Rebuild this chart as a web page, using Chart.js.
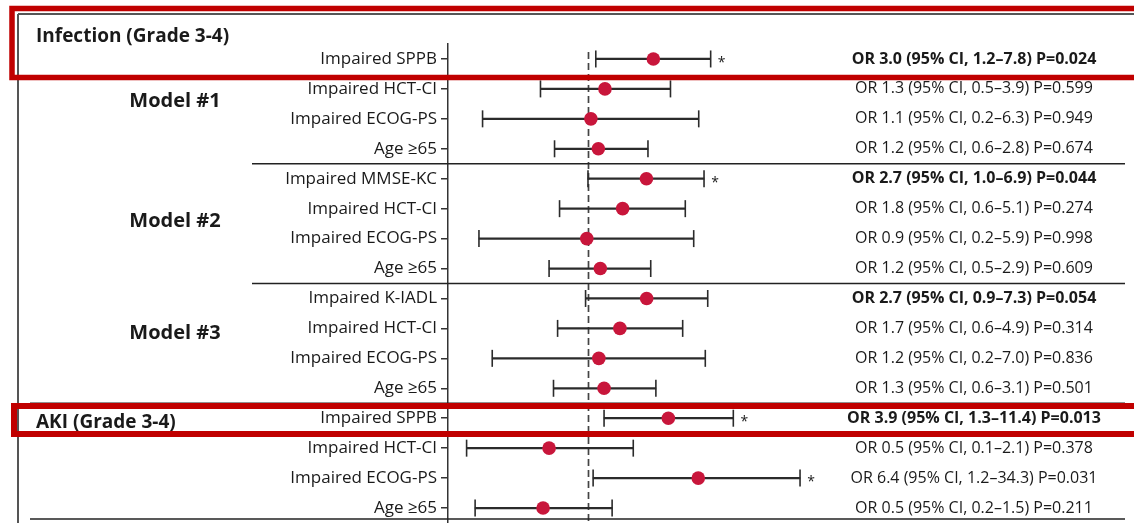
<!DOCTYPE html>
<html>
<head>
<meta charset="utf-8">
<script src="https://cdn.jsdelivr.net/npm/chart.js@4.4.1/dist/chart.umd.min.js"></script>
<style>
  html, body { margin: 0; padding: 0; background: #fff; }
  canvas { display: block; }
</style>
</head>
<body>
<canvas id="forest" width="1134" height="523"></canvas>
<script>
// rows, top to bottom
const rowLabels = [
  'Impaired SPPB',
  'Impaired HCT-CI', 'Impaired ECOG-PS', 'Age ≥65',
  'Impaired MMSE-KC', 'Impaired HCT-CI', 'Impaired ECOG-PS', 'Age ≥65',
  'Impaired K-IADL', 'Impaired HCT-CI', 'Impaired ECOG-PS', 'Age ≥65',
  'Impaired SPPB', 'Impaired HCT-CI', 'Impaired ECOG-PS', 'Age ≥65'
];
// odds ratio + 95% CI (log scale)
const oddsRatio = [3.0, 1.33, 1.05, 1.19, 2.67, 1.79, 0.98, 1.23, 2.68, 1.71, 1.2, 1.31, 3.86, 0.52, 6.38, 0.47];
const ciLow     = [1.14, 0.45, 0.17, 0.57, 1.0, 0.62, 0.16, 0.52, 0.96, 0.6, 0.2, 0.56, 1.31, 0.13, 1.09, 0.15];
const ciHigh    = [7.86, 4.0, 6.43, 2.74, 7.03, 5.13, 5.91, 2.87, 7.48, 4.91, 7.18, 3.13, 11.5, 2.14, 35.3, 1.5];
const statText = [
  'OR 3.0 (95% CI, 1.2–7.8) P=0.024',
  'OR 1.3 (95% CI, 0.5–3.9) P=0.599',
  'OR 1.1 (95% CI, 0.2–6.3) P=0.949',
  'OR 1.2 (95% CI, 0.6–2.8) P=0.674',
  'OR 2.7 (95% CI, 1.0–6.9) P=0.044',
  'OR 1.8 (95% CI, 0.6–5.1) P=0.274',
  'OR 0.9 (95% CI, 0.2–5.9) P=0.998',
  'OR 1.2 (95% CI, 0.5–2.9) P=0.609',
  'OR 2.7 (95% CI, 0.9–7.3) P=0.054',
  'OR 1.7 (95% CI, 0.6–4.9) P=0.314',
  'OR 1.2 (95% CI, 0.2–7.0) P=0.836',
  'OR 1.3 (95% CI, 0.6–3.1) P=0.501',
  'OR 3.9 (95% CI, 1.3–11.4) P=0.013',
  'OR 0.5 (95% CI, 0.1–2.1) P=0.378',
  'OR 6.4 (95% CI, 1.2–34.3) P=0.031',
  'OR 0.5 (95% CI, 0.2–1.5) P=0.211'
];
const boldRows = [0, 4, 8, 12];
const starRows = [0, 4, 12, 14];
const groupNames = ['Infection (Grade 3-4)', 'Model #1', 'Model #2', 'Model #3', 'AKI (Grade 3-4)'];

const FONT = '"Open Sans", "Noto Sans", sans-serif';
Chart.defaults.font.family = FONT;

const forestDecor = {
  id: 'forestDecor',
  beforeDatasetsDraw(chart) {
    const { ctx, chartArea, scales: { x } } = chart;
    const x1 = Math.round(x.getPixelForValue(1)) + 0.5;
    ctx.save();
    ctx.strokeStyle = '#444';
    ctx.lineWidth = 1.7;
    ctx.setLineDash([7, 4]);
    ctx.beginPath();
    ctx.moveTo(x1, 52);
    ctx.lineTo(x1, chartArea.bottom);
    ctx.stroke();
    ctx.restore();
  },
  afterDraw(chart) {
    const { ctx, scales: { x, y } } = chart;
    const row = r => y.getPixelForValue(0) + r * (y.getPixelForValue(1) - y.getPixelForValue(0));
    const line = (x0, y0, x1, y1, color, w) => {
      ctx.strokeStyle = color;
      ctx.lineWidth = w;
      ctx.beginPath();
      ctx.moveTo(x0, y0);
      ctx.lineTo(x1, y1);
      ctx.stroke();
    };
    ctx.save();

    // outer frame
    line(18, 14, 1134, 14, '#555', 2);
    line(18, 14, 18, 523, '#555', 2);

    // separators between models / outcomes
    line(252, row(3.5), 1125, row(3.5), '#222', 1.5);
    line(252, row(7.5), 1125, row(7.5), '#222', 1.5);
    line(30, row(11.5), 1125, row(11.5), '#222', 1.5);
    line(30, row(15.37), 1125, row(15.37), '#222', 1.5);

    // OR / CI / P column
    ctx.fillStyle = '#1a1a1a';
    ctx.textAlign = 'center';
    ctx.textBaseline = 'middle';
    statText.forEach((t, i) => {
      ctx.font = (boldRows.includes(i) ? 'bold ' : '') + '16px ' + FONT;
      ctx.fillText(t, 974, row(i));
    });

    // significance stars
    ctx.textBaseline = 'alphabetic';
    ctx.font = '14px ' + FONT;
    starRows.forEach(i => {
      ctx.fillText('*', x.getPixelForValue(ciHigh[i]) + 11, row(i) + 8);
    });

    // group headings
    ctx.textBaseline = 'middle';
    ctx.font = 'bold 19px ' + FONT;
    ctx.textAlign = 'left';
    ctx.fillText(groupNames[0], 36, row(-0.735));
    ctx.fillText(groupNames[4], 36, row(12.16));
    ctx.textAlign = 'center';
    ctx.font = 'bold 20px ' + FONT;
    ctx.fillText(groupNames[1], 175, row(1.4));
    ctx.fillText(groupNames[2], 175, row(5.41));
    ctx.fillText(groupNames[3], 175, row(9.15));

    // red highlight boxes
    ctx.strokeStyle = '#c00000';
    ctx.lineWidth = 5.5;
    ctx.strokeRect(12, 8.5, 1140, 69);
    ctx.lineWidth = 6;
    ctx.strokeRect(14, 406, 1140, 28);

    ctx.restore();
  }
};

const pts = vals => vals.map((v, i) => ({ x: v, y: i }));

new Chart(document.getElementById('forest'), {
  type: 'bar',
  data: {
    labels: rowLabels,
    datasets: [
      {
        type: 'bar',
        data: rowLabels.map((_, i) => [ciLow[i], ciHigh[i]]),
        backgroundColor: '#2b2b2b',
        borderWidth: 0,
        barThickness: 1.6,
        xAxisID: 'x', yAxisID: 'y',
        order: 3
      },
      {
        type: 'scatter',
        data: pts(ciLow),
        pointStyle: 'line', rotation: 90, pointRadius: 8.5,
        borderColor: '#2b2b2b', borderWidth: 1.6,
        xAxisID: 'x', yAxisID: 'y',
        order: 2
      },
      {
        type: 'scatter',
        data: pts(ciHigh),
        pointStyle: 'line', rotation: 90, pointRadius: 8.5,
        borderColor: '#2b2b2b', borderWidth: 1.6,
        xAxisID: 'x', yAxisID: 'y',
        order: 2
      },
      {
        type: 'scatter',
        data: pts(oddsRatio),
        pointStyle: 'circle', pointRadius: 6.8,
        backgroundColor: '#c8163b', borderWidth: 0,
        xAxisID: 'x', yAxisID: 'y',
        order: 0
      }
    ]
  },
  options: {
    indexAxis: 'y',
    responsive: false,
    animation: false,
    layout: { autoPadding: false, padding: { top: 44, right: 304, bottom: 0, left: 0 } },
    plugins: {
      legend: { display: false },
      tooltip: { enabled: false }
    },
    scales: {
      x: {
        type: 'logarithmic',
        display: false,
        bounds: 'data',
        min: 0.0951,
        max: 58.4
      },
      y: {
        type: 'category',
        offset: true,
        grid: { offset: false, drawOnChartArea: false, drawTicks: true, tickLength: 7, tickColor: '#333', lineWidth: 1.5 },
        border: { color: '#333', width: 1.5 },
        ticks: { color: '#1a1a1a', font: { size: 17 }, padding: 4, autoSkip: false },
        afterFit: s => {
          s.width = 448;
          s.paddingTop = 0;
          s.paddingBottom = 0;
        }
      }
    }
  },
  plugins: [forestDecor]
});
</script>
</body>
</html>
